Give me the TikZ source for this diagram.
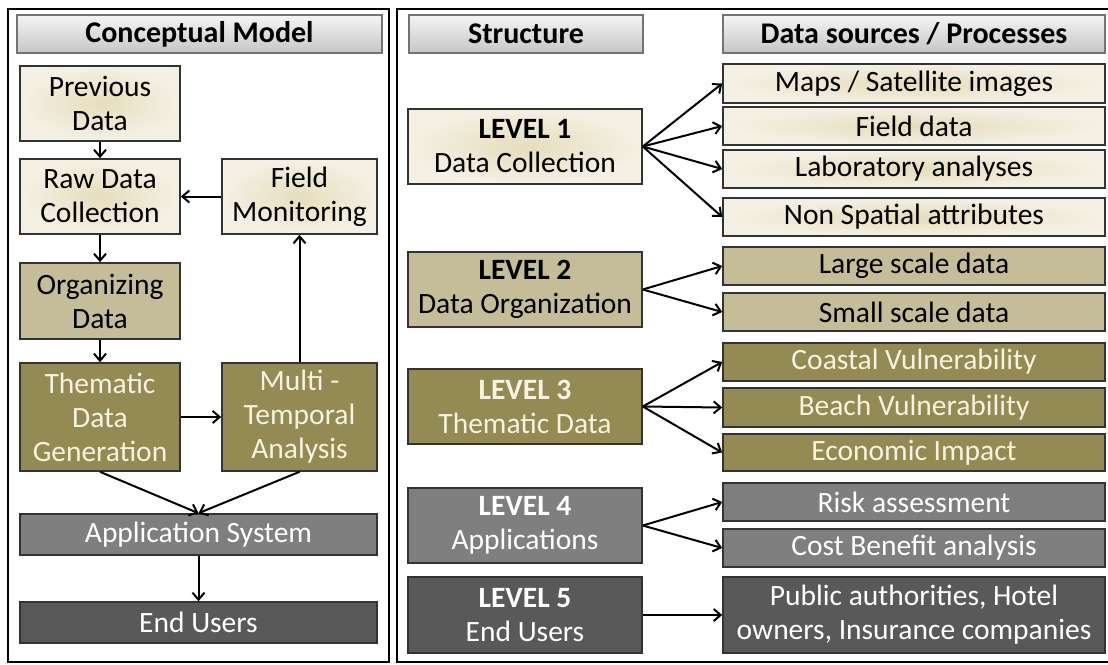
\documentclass[tikz,border=0pt]{standalone}
\usepackage{fontspec}
\setmainfont{Carlito}
\usetikzlibrary{arrows.meta}
\usetikzlibrary{positioning}
\definecolor{mcream}{HTML}{F4F1E4}
\definecolor{mcreamc}{HTML}{E6DDBC}
\definecolor{mtan}{HTML}{C4BD97}
\definecolor{molive}{HTML}{948A54}
\definecolor{mgray}{HTML}{7F7F7F}
\definecolor{mdark}{HTML}{595959}
\definecolor{mlight}{HTML}{F6F3E0}
\tikzset{box/.style 2 args = {draw = black!80, line width = 1.6pt, align = center, inner sep = 0,
                              minimum width = #1pt, minimum height = #2pt,
                              font = \fontsize{29.5}{34}\selectfont}}
\tikzset{hdr/.style = {draw = black!55, line width = 1.2pt, top color = gray!8, bottom color = gray!45,
                       font = \fontsize{30}{34}\selectfont\bfseries}}
\tikzset{lvone/.style = {inner color = mcreamc, outer color = mcream}}
\tikzset{lvtwo/.style = {fill = mtan}}
\tikzset{lvthree/.style = {fill = molive, text = mlight}}
\tikzset{lvfour/.style = {fill = mgray, text = white}}
\tikzset{lvfive/.style = {fill = mdark, text = white}}
\tikzset{arr/.style = {line width = 2pt, -{Straight Barb[length = 7pt, width = 12pt]}}}

\begin{document}
\begin{tikzpicture}[x=1pt, y=-1pt]
    \useasboundingbox (0, 0) rectangle (1108, 664);
    \draw [line width = 2pt] (8, 9) rectangle (389, 662);
    \draw [line width = 2pt] (397, 9) rectangle (1112, 662);

    % conceptual model
    \node [box={365}{38}, hdr] (conc) at (199.5, 34) {Conceptual Model};
    \node [lvone, box={160}{75}] (prev) at (100, 103.5) {Previous\\Data};
    \node [lvone, box={160}{75}] (raw) at (100, 196.5) {Raw Data\\Collection};
    \node [lvone, box={155}{75}] (field) at (299.5, 196.5) {Field\\Monitoring};
    \node [lvtwo, box={160}{76}] (org) at (100, 301) {Organizing\\Data};
    \node [lvthree, box={160}{108}] (them) at (100, 417) {Thematic\\Data\\Generation};
    \node [lvthree, box={155}{108}] (multi) at (299.5, 417) {Multi -\\Temporal\\Analysis};
    \node [lvfour, box={357}{41}] (app) at (198.5, 534.5) {Application System};
    \node [lvfive, box={357}{41}] (endu) at (198.5, 622.5) {End Users};

    \draw [arr] (prev) -- (raw);
    \draw [arr] (field) -- (raw);
    \draw [arr] (raw) -- (org);
    \draw [arr] (org) -- (them);
    \draw [arr] (them) -- (multi);
    \draw [arr] (multi) -- (field);
    \draw [arr] (them.south) -- (app.north);
    \draw [arr] (multi.south) -- (app.north);
    \draw [arr] (app) -- (endu);

    % structure
    \node [box={234}{38}, hdr] (struct) at (526, 34) {Structure};
    \node [box={382}{38}, hdr] (srcs) at (914, 34) {Data sources / Processes};

    \node [lvone, box={234}{75}] (lev1) at (525, 146.5) {\textbf{LEVEL 1}\\Data Collection};
    \node [lvtwo, box={234}{75}] (lev2) at (525, 289.5) {\textbf{LEVEL 2}\\Data Organization};
    \node [lvthree, box={234}{75}] (lev3) at (525, 406.5) {\textbf{LEVEL 3}\\Thematic Data};
    \node [lvfour, box={234}{75}] (lev4) at (525, 525.5) {\textbf{LEVEL 4}\\Applications};
    \node [lvfive, box={234}{76}] (lev5) at (525, 615) {\textbf{LEVEL 5}\\End Users};

    % data sources / processes
    \node [lvone, box={382}{39}] (maps) at (914, 83.5) {Maps / Satellite images};
    \node [lvone, box={382}{38}] (fdat) at (914, 126) {Field data};
    \node [lvone, box={382}{38}] (lab) at (914, 169) {Laboratory analyses};
    \node [lvone, box={382}{38}] (nons) at (914, 217) {Non Spatial attributes};
    \node [lvtwo, box={382}{38}] (large) at (914, 266) {Large scale data};
    \node [lvtwo, box={382}{38}] (small) at (914, 312) {Small scale data};
    \node [lvthree, box={382}{38}] (coast) at (914, 362) {Coastal Vulnerability};
    \node [lvthree, box={382}{39}] (beach) at (914, 407.5) {Beach Vulnerability};
    \node [lvthree, box={382}{37}] (econ) at (914, 452.5) {Economic Impact};
    \node [lvfour, box={382}{38}] (risk) at (914, 502) {Risk assessment};
    \node [lvfour, box={382}{38}] (cost) at (914, 548) {Cost Benefit analysis};
    \node [lvfive, box={382}{76}] (pub) at (914, 615) {Public authorities, Hotel\\owners, Insurance companies};

    \foreach \t in {maps, fdat, lab, nons}
      \draw [arr] (lev1.east) -- (\t.west);
    \foreach \t in {large, small}
      \draw [arr] (lev2.east) -- (\t.west);
    \foreach \t in {coast, beach, econ}
      \draw [arr] (lev3.east) -- (\t.west);
    \foreach \t in {risk, cost}
      \draw [arr] (lev4.east) -- (\t.west);
    \draw [arr] (lev5) -- (pub);
  \end{tikzpicture}
\end{document}
